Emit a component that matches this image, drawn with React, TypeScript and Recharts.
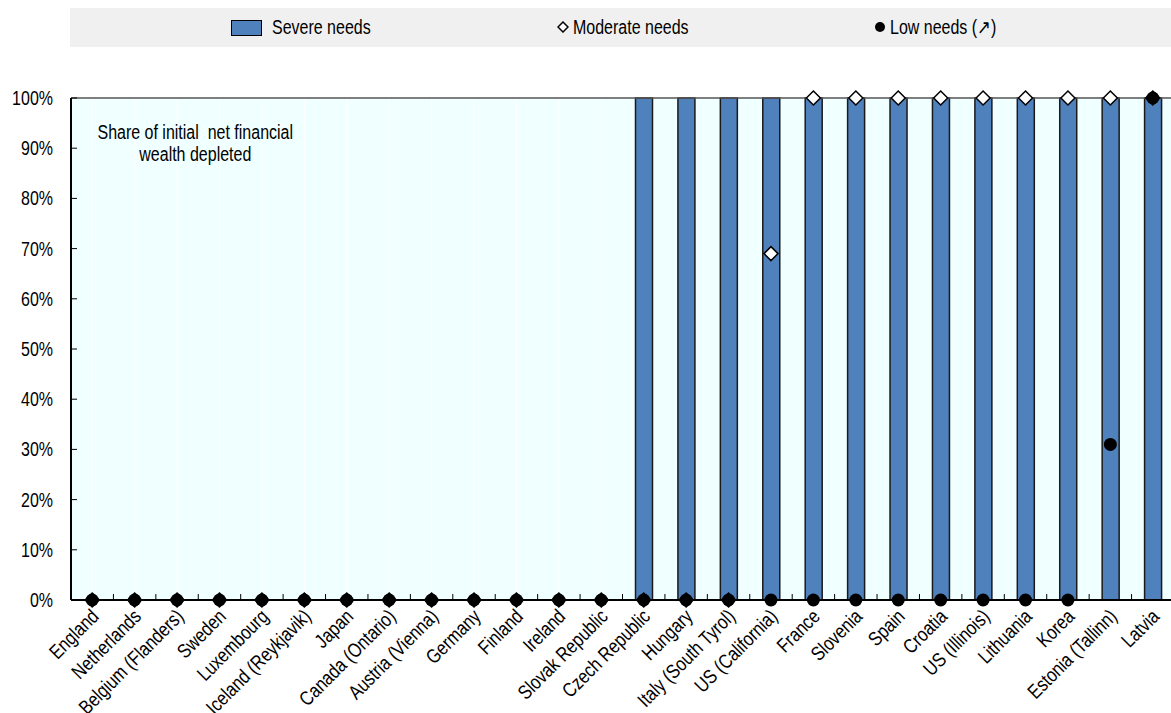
import React from 'react';
import { ComposedChart, Bar, Line, XAxis, YAxis, CartesianGrid, ReferenceLine } from 'recharts';

const categories = [
  'England', 'Netherlands', 'Belgium (Flanders)', 'Sweden', 'Luxembourg', 'Iceland (Reykjavik)',
  'Japan', 'Canada (Ontario)', 'Austria (Vienna)', 'Germany', 'Finland', 'Ireland', 'Slovak Republic',
  'Czech Republic', 'Hungary', 'Italy (South Tyrol)', 'US (California)', 'France', 'Slovenia', 'Spain',
  'Croatia', 'US (Illinois)', 'Lithuania', 'Korea', 'Estonia (Tallinn)', 'Latvia',
];
const severeNeeds = [0, 0, 0, 0, 0, 0, 0, 0, 0, 0, 0, 0, 0, 100, 100, 100, 100, 100, 100, 100, 100, 100, 100, 100, 100, 100];
const moderateNeeds = [0, 0, 0, 0, 0, 0, 0, 0, 0, 0, 0, 0, 0, 0, 0, 0, 69, 100, 100, 100, 100, 100, 100, 100, 100, 100];
const lowNeeds = [0, 0, 0, 0, 0, 0, 0, 0, 0, 0, 0, 0, 0, 0, 0, 0, 0, 0, 0, 0, 0, 0, 0, 0, 31, 100];
const yTicks = [0, 10, 20, 30, 40, 50, 60, 70, 80, 90, 100];
const legendLabels = ['Severe needs', 'Moderate needs', 'Low needs (\u2197)'];
const noteLines = ['Share of initial  net financial', 'wealth depleted'];

const data = categories.map((c, i) => ({
  name: c,
  severe: severeNeeds[i],
  moderate: moderateNeeds[i],
  low: lowNeeds[i],
}));

const FONT = "'Liberation Sans', Arial, sans-serif";
const NARROW = 0.82;
const BLUE = '#4F81BD';

const XTick = (props: any) => {
  const { x, y, payload, index } = props;
  const half = payload && payload.offset ? payload.offset : 21.2;
  const ax = x - 2.5;
  const ay = y + 7.5;
  return (
    <g>
      {index === 0 && <line x1={x - half} x2={x - half} y1={y} y2={y - 6} stroke="#000" strokeWidth={1} />}
      <line x1={x + half} x2={x + half} y1={y} y2={y - 6} stroke="#000" strokeWidth={1} />
      <g transform={`translate(${ax} ${ay}) rotate(-45) scale(${NARROW} 1)`}>
        <text x={0} y={0} dy="0.72em" textAnchor="end" fontFamily={FONT} fontSize={20} fill="#000">
          {payload.value}
        </text>
      </g>
    </g>
  );
};

const YTick = (props: any) => {
  const { x, y, payload } = props;
  return (
    <g>
      <line x1={x} x2={x + 6} y1={y} y2={y} stroke="#000" strokeWidth={1} />
      <g transform={`translate(${x - 18} ${y}) scale(${NARROW} 1)`}>
        <text x={0} y={0} dy="0.36em" textAnchor="end" fontFamily={FONT} fontSize={19.5} fill="#000">
          {`${payload.value}%`}
        </text>
      </g>
    </g>
  );
};

const Diamond = (props: any) => {
  const { cx, cy } = props;
  if (cx == null || cy == null) return null;
  const r = 7;
  return (
    <polygon
      points={`${cx},${cy - r} ${cx + r},${cy} ${cx},${cy + r} ${cx - r},${cy}`}
      fill="#fff"
      stroke="#000"
      strokeWidth={1.5}
    />
  );
};

const Dot = (props: any) => {
  const { cx, cy } = props;
  if (cx == null || cy == null) return null;
  return <circle cx={cx} cy={cy} r={6.5} fill="#000" />;
};

const narrowSpan = (text: string, origin: string): React.ReactNode => (
  <span style={{ display: 'inline-block', transform: `scaleX(${NARROW})`, transformOrigin: origin, whiteSpace: 'pre' }}>{text}</span>
);

export default function App() {
  return (
    <div style={{ position: 'absolute', left: 0, top: 0, width: 1171, height: 713, overflow: 'hidden', background: '#fff' }}>
      <div
        style={{
          position: 'absolute', left: 70, top: 8, width: 1101, height: 39, background: '#F0F0F0',
          fontFamily: FONT, fontSize: 19.5, color: '#000',
        }}
      >
        <div style={{ position: 'absolute', left: 161, top: 12, width: 31, height: 16, background: BLUE, border: '1.5px solid #000', boxSizing: 'border-box' }} />
        <div style={{ position: 'absolute', left: 202, top: 8, lineHeight: '22px' }}>{narrowSpan(legendLabels[0], 'left center')}</div>
        <svg style={{ position: 'absolute', left: 487, top: 13 }} width={12} height={12}>
          <polygon points="6,1 11,6 6,11 1,6" fill="#fff" stroke="#000" strokeWidth={1.5} />
        </svg>
        <div style={{ position: 'absolute', left: 503, top: 8, lineHeight: '22px' }}>{narrowSpan(legendLabels[1], 'left center')}</div>
        <svg style={{ position: 'absolute', left: 804, top: 13 }} width={12} height={12}>
          <circle cx={6} cy={6} r={5} fill="#000" />
        </svg>
        <div style={{ position: 'absolute', left: 820, top: 8, lineHeight: '22px' }}>{narrowSpan(legendLabels[2], 'left center')}</div>
      </div>

      <div style={{ position: 'absolute', left: 0, top: 0 }}>
        <ComposedChart width={1174} height={713} data={data} margin={{ top: 98, right: 0, left: 0, bottom: 0 }} barCategoryGap={0}>
          <CartesianGrid horizontal={false} vertical={true} stroke="#ffffff" fill="#F0FFFF" />
          <XAxis
            dataKey="name"
            interval={0}
            height={113}
            tickLine={false}
            tickSize={0}
            tickMargin={0}
            axisLine={{ stroke: '#000', strokeWidth: 2 }}
            tick={<XTick />}
          />
          <YAxis
            width={71}
            domain={[0, 100]}
            ticks={yTicks}
            interval={0}
            tickLine={false}
            tickSize={0}
            tickMargin={0}
            axisLine={{ stroke: '#000', strokeWidth: 2 }}
            tick={<YTick />}
          />
          <ReferenceLine y={100} stroke="#555" strokeWidth={1.5} ifOverflow="visible" />
          <Bar dataKey="severe" fill={BLUE} stroke="#1a1a1a" strokeWidth={1.5} barSize={17} isAnimationActive={false} />
          <Line dataKey="moderate" stroke="none" dot={<Diamond />} activeDot={false} isAnimationActive={false} />
          <Line dataKey="low" stroke="none" dot={<Dot />} activeDot={false} isAnimationActive={false} />
        </ComposedChart>
      </div>

      <div
        style={{
          position: 'absolute', left: 75, top: 121, width: 240, textAlign: 'center',
          fontFamily: FONT, fontSize: 19.5, lineHeight: '22px', color: '#000',
        }}
      >
        <div>{narrowSpan(noteLines[0], 'center center')}</div>
        <div>{narrowSpan(noteLines[1], 'center center')}</div>
      </div>
    </div>
  );
}
